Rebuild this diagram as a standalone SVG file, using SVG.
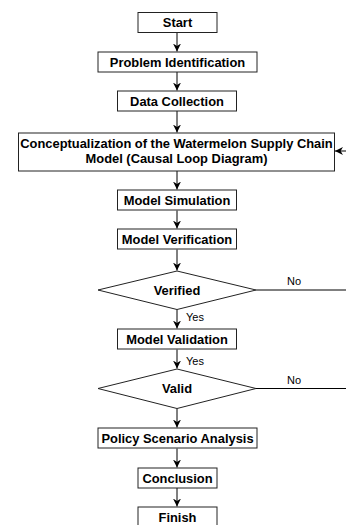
<svg xmlns="http://www.w3.org/2000/svg" width="346" height="525" viewBox="0 0 346 525">
  <defs>
    <marker id="arrow" viewBox="0 0 10 10" refX="10" refY="5" markerWidth="8" markerHeight="8" markerUnits="userSpaceOnUse" orient="auto">
      <path d="M0,0 L10,5 L0,10 L3,5 Z" fill="#000"/>
    </marker>
    <style>
      .box { fill: #fff; stroke: #222; stroke-width: 1; }
      .lbl { font-family: "Liberation Sans", Arial, sans-serif; font-weight: bold; font-size: 12.9px; fill: #000; text-anchor: middle; }
      .note { font-family: "Liberation Sans", Arial, sans-serif; font-size: 11px; fill: #000; }
      .edge { fill: none; stroke: #000; stroke-width: 1; }
      .arr { marker-end: url(#arrow); }
    </style>
  </defs>
  <rect width="346" height="525" fill="#fff"/>

  <!-- connectors -->
  <g id="connectors">
    <path class="edge arr" d="M177,32.5 V51.5"/>
    <path class="edge arr" d="M177,72 V90.5"/>
    <path class="edge arr" d="M177,111 V132.5"/>
    <path class="edge arr" d="M177,171 V189.5"/>
    <path class="edge arr" d="M177,210.5 V228.5"/>
    <path class="edge arr" d="M177,249.5 V270.5"/>
    <path class="edge arr" d="M177,309.5 V328.5"/>
    <path class="edge arr" d="M177,349.5 V368.5"/>
    <path class="edge arr" d="M177,408.5 V427.5"/>
    <path class="edge arr" d="M177,448.5 V467.5"/>
    <path class="edge arr" d="M177,488 V506.5"/>
    <!-- "No" branches running back to the conceptual model -->
    <path class="edge" d="M256,290 H346"/>
    <path class="edge" d="M256,388.5 H346"/>
    <path class="edge arr" d="M346,151 H335"/>
    <text class="note" x="287" y="285">No</text>
    <text class="note" x="287" y="384">No</text>
    <text class="note" x="186" y="321">Yes</text>
    <text class="note" x="186" y="365">Yes</text>
  </g>

  <g id="start">
    <rect class="box" x="138" y="12.5" width="79" height="20"/>
    <text class="lbl" x="177.5" y="27">Start</text>
  </g>
  <g id="problem-identification">
    <rect class="box" x="98" y="52" width="159" height="20"/>
    <text class="lbl" x="177.5" y="66.5">Problem Identification</text>
  </g>
  <g id="data-collection">
    <rect class="box" x="117.5" y="91" width="119" height="20"/>
    <text class="lbl" x="177" y="105.5">Data Collection</text>
  </g>
  <g id="conceptualization">
    <rect class="box" x="18.5" y="133" width="316" height="38"/>
    <text class="lbl" x="176.5" y="147.5">Conceptualization of the Watermelon Supply Chain</text>
    <text class="lbl" x="176.5" y="162.5">Model (Causal Loop Diagram)</text>
  </g>
  <g id="model-simulation">
    <rect class="box" x="117.5" y="190" width="119" height="20"/>
    <text class="lbl" x="177" y="204.5">Model Simulation</text>
  </g>
  <g id="model-verification">
    <rect class="box" x="117.5" y="229" width="119" height="20"/>
    <text class="lbl" x="177" y="243.5">Model Verification</text>
  </g>
  <g id="verified">
    <polygon class="box" points="177,271 256,290 177,309.5 98,290"/>
    <text class="lbl" x="177" y="294.5">Verified</text>
  </g>
  <g id="model-validation">
    <rect class="box" x="117.5" y="329" width="119" height="20"/>
    <text class="lbl" x="177" y="343.5">Model Validation</text>
  </g>
  <g id="valid">
    <polygon class="box" points="177,369 256,388.5 177,408.5 98,388.5"/>
    <text class="lbl" x="177" y="393">Valid</text>
  </g>
  <g id="policy-scenario-analysis">
    <rect class="box" x="98" y="428" width="159" height="20"/>
    <text class="lbl" x="177.5" y="442.5">Policy Scenario Analysis</text>
  </g>
  <g id="conclusion">
    <rect class="box" x="138" y="468" width="79" height="20"/>
    <text class="lbl" x="177.5" y="482.5">Conclusion</text>
  </g>
  <g id="finish">
    <rect class="box" x="138" y="507" width="79" height="22"/>
    <text class="lbl" x="177.5" y="521.5">Finish</text>
  </g>
</svg>
